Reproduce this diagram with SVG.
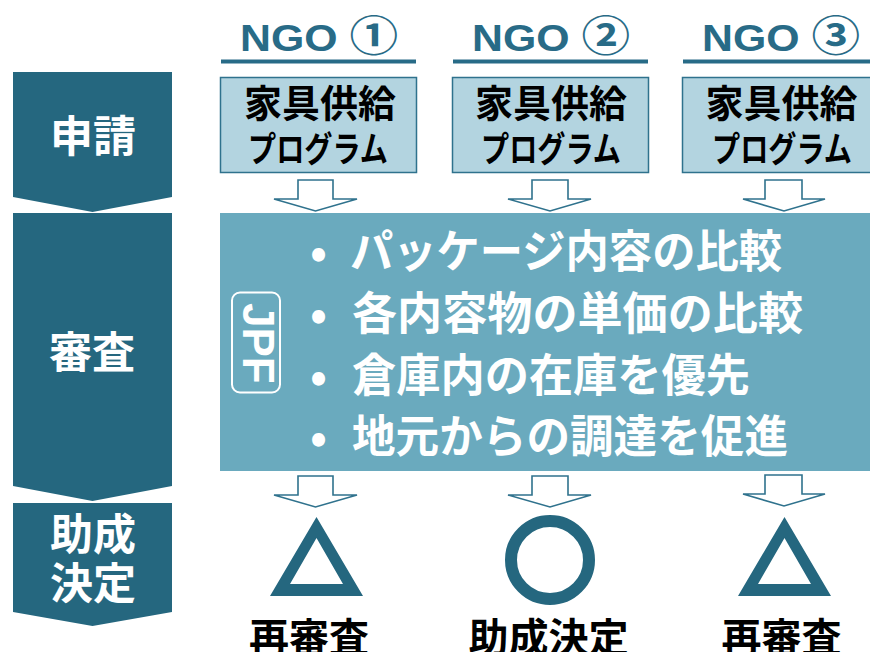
<svg xmlns="http://www.w3.org/2000/svg" width="870" height="652" viewBox="0 0 870 652">
<style>
.chev{fill:#25677f}
.stage{fill:#fff;font-family:"Noto Sans CJK JP",sans-serif;font-weight:700;font-size:43px;text-anchor:middle}
.ngo{fill:#286b87;font-family:"Liberation Sans","Noto Sans CJK JP",sans-serif;font-weight:700;font-size:37px}
.uline{fill:#286b87}
.box{fill:#b3d4e0;stroke:#2f728d;stroke-width:1.5}
.t1{fill:#000;font-family:"Noto Sans CJK JP",sans-serif;font-weight:700;font-size:38px;text-anchor:middle}
.t2{fill:#000;font-family:"Noto Sans CJK JP",sans-serif;font-weight:700;font-size:35px}
.panel{fill:#6aaabe}
.bul{fill:#fff;font-family:"Noto Sans CJK JP",sans-serif;font-weight:700;font-size:45px}
.arr{fill:#fff;stroke:#2f728d;stroke-width:1.6;stroke-linejoin:miter}
.mark{fill:#25677f}
.res{fill:#000;font-family:"Noto Sans CJK JP",sans-serif;font-weight:700;font-size:40px;text-anchor:middle}
</style>

<!-- Stage chevrons -->
<g id="stage-apply">
<polygon class="chev" points="13,72 172,72 172,197 92.5,212 13,197"/>
<text class="stage" x="93" y="152">申請</text>
</g>
<g id="stage-review">
<polygon class="chev" points="13,213 172,213 172,486 92.5,501 13,486"/>
<text class="stage" x="92" y="368">審査</text>
</g>
<g id="stage-decision">
<polygon class="chev" points="13,503 172,503 172,612 92.5,626 13,612"/>
<text class="stage" x="93" y="550" font-size="41">助成</text>
<text class="stage" x="93" y="599" font-size="41">決定</text>
</g>

<!-- NGO applications -->
<g id="ngo1">
<text class="ngo" x="240" y="51" textLength="158" lengthAdjust="spacingAndGlyphs">NGO <tspan font-size="42">①</tspan></text>
<rect class="uline" x="221" y="59.5" width="195" height="4"/>
<rect class="box" x="220.5" y="77.5" width="196" height="95"/>
<text class="t1" x="320" y="117">家具供給</text>
<text class="t2" x="248" y="162" textLength="140" lengthAdjust="spacingAndGlyphs">プログラム</text>
</g>
<g id="ngo2">
<text class="ngo" x="472" y="51" textLength="158" lengthAdjust="spacingAndGlyphs">NGO <tspan font-size="42">②</tspan></text>
<rect class="uline" x="453" y="59.5" width="195" height="4"/>
<rect class="box" x="452.5" y="77.5" width="196" height="95"/>
<text class="t1" x="551" y="117">家具供給</text>
<text class="t2" x="481" y="162" textLength="140" lengthAdjust="spacingAndGlyphs">プログラム</text>
</g>
<g id="ngo3">
<text class="ngo" x="702" y="51" textLength="158" lengthAdjust="spacingAndGlyphs">NGO <tspan font-size="42">③</tspan></text>
<rect class="uline" x="683" y="59.5" width="195" height="4"/>
<rect class="box" x="682.5" y="77.5" width="196" height="95"/>
<text class="t1" x="781.5" y="117">家具供給</text>
<text class="t2" x="712" y="162" textLength="140" lengthAdjust="spacingAndGlyphs">プログラム</text>
</g>

<!-- JPF review panel -->
<g id="jpf-review">
<rect class="panel" x="220" y="213" width="650" height="258"/>
<rect x="232" y="292.5" width="48" height="100" rx="8" fill="none" stroke="#fff" stroke-width="2"/>
<text transform="translate(243,303) rotate(90)" fill="#fff" font-family="Liberation Sans,sans-serif" font-weight="700" font-size="44">JPF</text>
<g class="bul">
<text x="310" y="268">•</text>
<text x="350" y="268" textLength="432" lengthAdjust="spacingAndGlyphs">パッケージ内容の比較</text>
<text x="310" y="330">•</text>
<text x="352" y="330" textLength="451" lengthAdjust="spacingAndGlyphs">各内容物の単価の比較</text>
<text x="310" y="392">•</text>
<text x="352" y="392" textLength="398" lengthAdjust="spacingAndGlyphs">倉庫内の在庫を優先</text>
<text x="310" y="453">•</text>
<text x="352" y="453" textLength="436" lengthAdjust="spacingAndGlyphs">地元からの調達を促進</text>
</g>
</g>

<!-- Results -->
<g id="result1">
<path class="mark" fill-rule="evenodd" d="M316.5,517 L363,596 L270,596 Z M316.5,538 L290,584 L343,584 Z"/>
<text class="res" x="309" y="652">再審査</text>
</g>
<g id="result2">
<circle cx="550" cy="560" r="39" fill="none" stroke="#25677f" stroke-width="12"/>
<text class="res" x="548.5" y="652">助成決定</text>
</g>
<g id="result3">
<path class="mark" fill-rule="evenodd" d="M784.5,517 L831,596 L738,596 Z M784.5,538 L758,584 L811,584 Z"/>
<text class="res" x="781.5" y="652">再審査</text>
</g>

<!-- Connectors: hollow block arrows -->
<g id="connectors">
<polygon class="arr" points="298,180 333,180 333,199 357,199 315.5,211 274,199 298,199"/>
<polygon class="arr" points="532,180 568,180 568,199 591,199 550,211 508,199 532,199"/>
<polygon class="arr" points="765,180 802,180 802,199 825,199 784,211 743,199 765,199"/>
<polygon class="arr" points="298,476 333,476 333,495 357,495 315.5,507 274,495 298,495"/>
<polygon class="arr" points="532,476 568,476 568,495 591,495 550,507 508,495 532,495"/>
<polygon class="arr" points="765,475 802,475 802,494 825,494 784,506 743,494 765,494"/>
</g>
</svg>
